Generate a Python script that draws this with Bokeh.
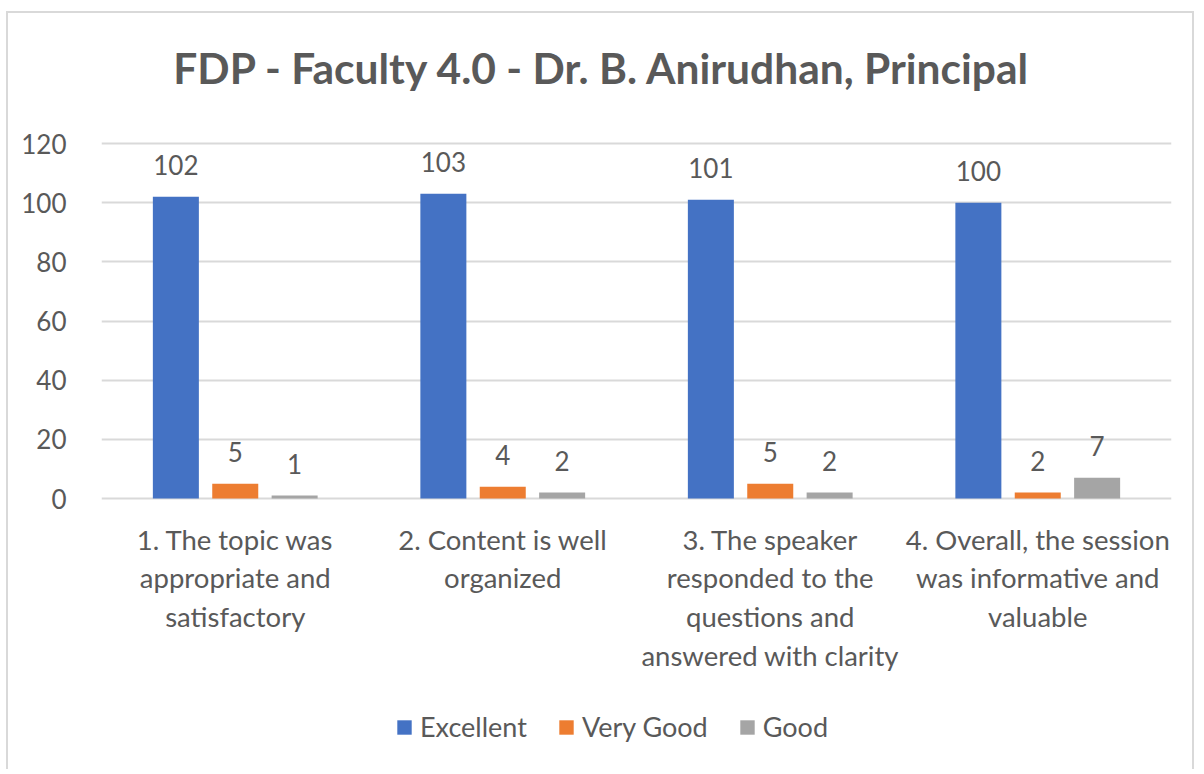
from bokeh.plotting import figure
from bokeh.models import ColumnDataSource, FactorRange, Range1d, FixedTicker, Label, Legend, LegendItem
from bokeh.transform import dodge
from bokeh.core.properties import value
from bokeh.embed import file_html
from bokeh.resources import INLINE

title = "FDP - Faculty 4.0 - Dr. B. Anirudhan, Principal"
categories = [
    "1. The topic was\nappropriate and\nsatisfactory",
    "2. Content is well\norganized",
    "3. The speaker\nresponded to the\nquestions and\nanswered with clarity",
    "4. Overall, the session\nwas informative and\nvaluable",
]
series_names = ["Excellent", "Very Good", "Good"]
excellent = [102, 103, 101, 100]
very_good = [5, 4, 5, 2]
good = [1, 2, 2, 7]
y_ticks = [0, 20, 40, 60, 80, 100, 120]

colors = ["#4472C4", "#ED7D31", "#A5A5A5"]
TEXT = "#595959"
FONT = "Lato"

src = ColumnDataSource(dict(cat=categories, Excellent=excellent,
                            VeryGood=very_good, Good=good,
                            zero=[0] * len(categories),
                            l_ex=[str(v) for v in excellent],
                            l_vg=[str(v) for v in very_good],
                            l_g=[str(v) for v in good]))

# canvas starts at page (8, 13); frame spans full canvas height; 0..120 -> canvas y 485..130
PX = 355 / 120.0
H = 758
Y0 = 485
p = figure(x_range=FactorRange(*categories, range_padding=0),
           y_range=Range1d(-(H - Y0) / PX, 120 + (Y0 - 355) / PX),
           width=1188, height=H, output_backend="svg", toolbar_location=None,
           x_axis_location=None,
           min_border_left=93, min_border_right=25, min_border_top=0, min_border_bottom=0)
p.styles = {"margin-left": "6px", "margin-top": "11px",
            "border-top": "2px solid #D9D9D9", "border-left": "2px solid #D9D9D9",
            "border-right": "2px solid #D9D9D9"}
p.outline_line_color = None
p.background_fill_color = "white"
p.border_fill_color = "white"

cols = ["Excellent", "VeryGood", "Good"]
labs = ["l_ex", "l_vg", "l_g"]
offs = [-0.222, 0.0, 0.222]
rends = []
for c, lab, off, col in zip(cols, labs, offs, colors):
    r = p.vbar(x=dodge("cat", off, range=p.x_range), top=c, width=0.172, source=src,
               fill_color=col, line_color=None)
    rends.append(r)
    p.text(x=dodge("cat", off, range=p.x_range), y=c, text=lab, source=src,
           text_align="center", text_baseline="middle", y_offset=-32,
           text_font=value(FONT), text_font_size="26px", text_color=TEXT)

# category labels under the zero line
p.text(x="cat", y="zero", text="cat", source=src, text_align="center", text_baseline="top",
       y_offset=24, text_font=value(FONT), text_font_size="27.5px", text_color=TEXT,
       text_line_height=1.18)

p.ygrid.ticker = FixedTicker(ticks=y_ticks)
p.ygrid.grid_line_color = "#D9D9D9"
p.ygrid.grid_line_width = 2
p.xgrid.grid_line_color = None

p.yaxis.ticker = FixedTicker(ticks=y_ticks)
p.yaxis.axis_line_color = None
p.yaxis.major_tick_line_color = None
p.yaxis.minor_tick_line_color = None
p.yaxis.major_label_standoff = 29
p.yaxis.major_label_text_font = FONT
p.yaxis.major_label_text_font_size = "26px"
p.yaxis.major_label_text_color = TEXT

p.add_layout(Label(x=1.873, y=145.7, text=title, text_align="center", text_baseline="middle",
                   text_font=FONT, text_font_size="42.5px", text_font_style="bold",
                   text_color=TEXT))

legend = Legend(items=[LegendItem(label=n, renderers=[r]) for n, r in zip(series_names, rends)],
                orientation="horizontal", location=(294, 28),
                glyph_width=18, glyph_height=18, label_standoff=7, spacing=30,
                padding=0, margin=0, border_line_color=None, background_fill_alpha=0,
                label_text_font=FONT, label_text_font_size="27px", label_text_color=TEXT)
p.add_layout(legend, "center")

open("out.html", "w").write(file_html(p, INLINE))
